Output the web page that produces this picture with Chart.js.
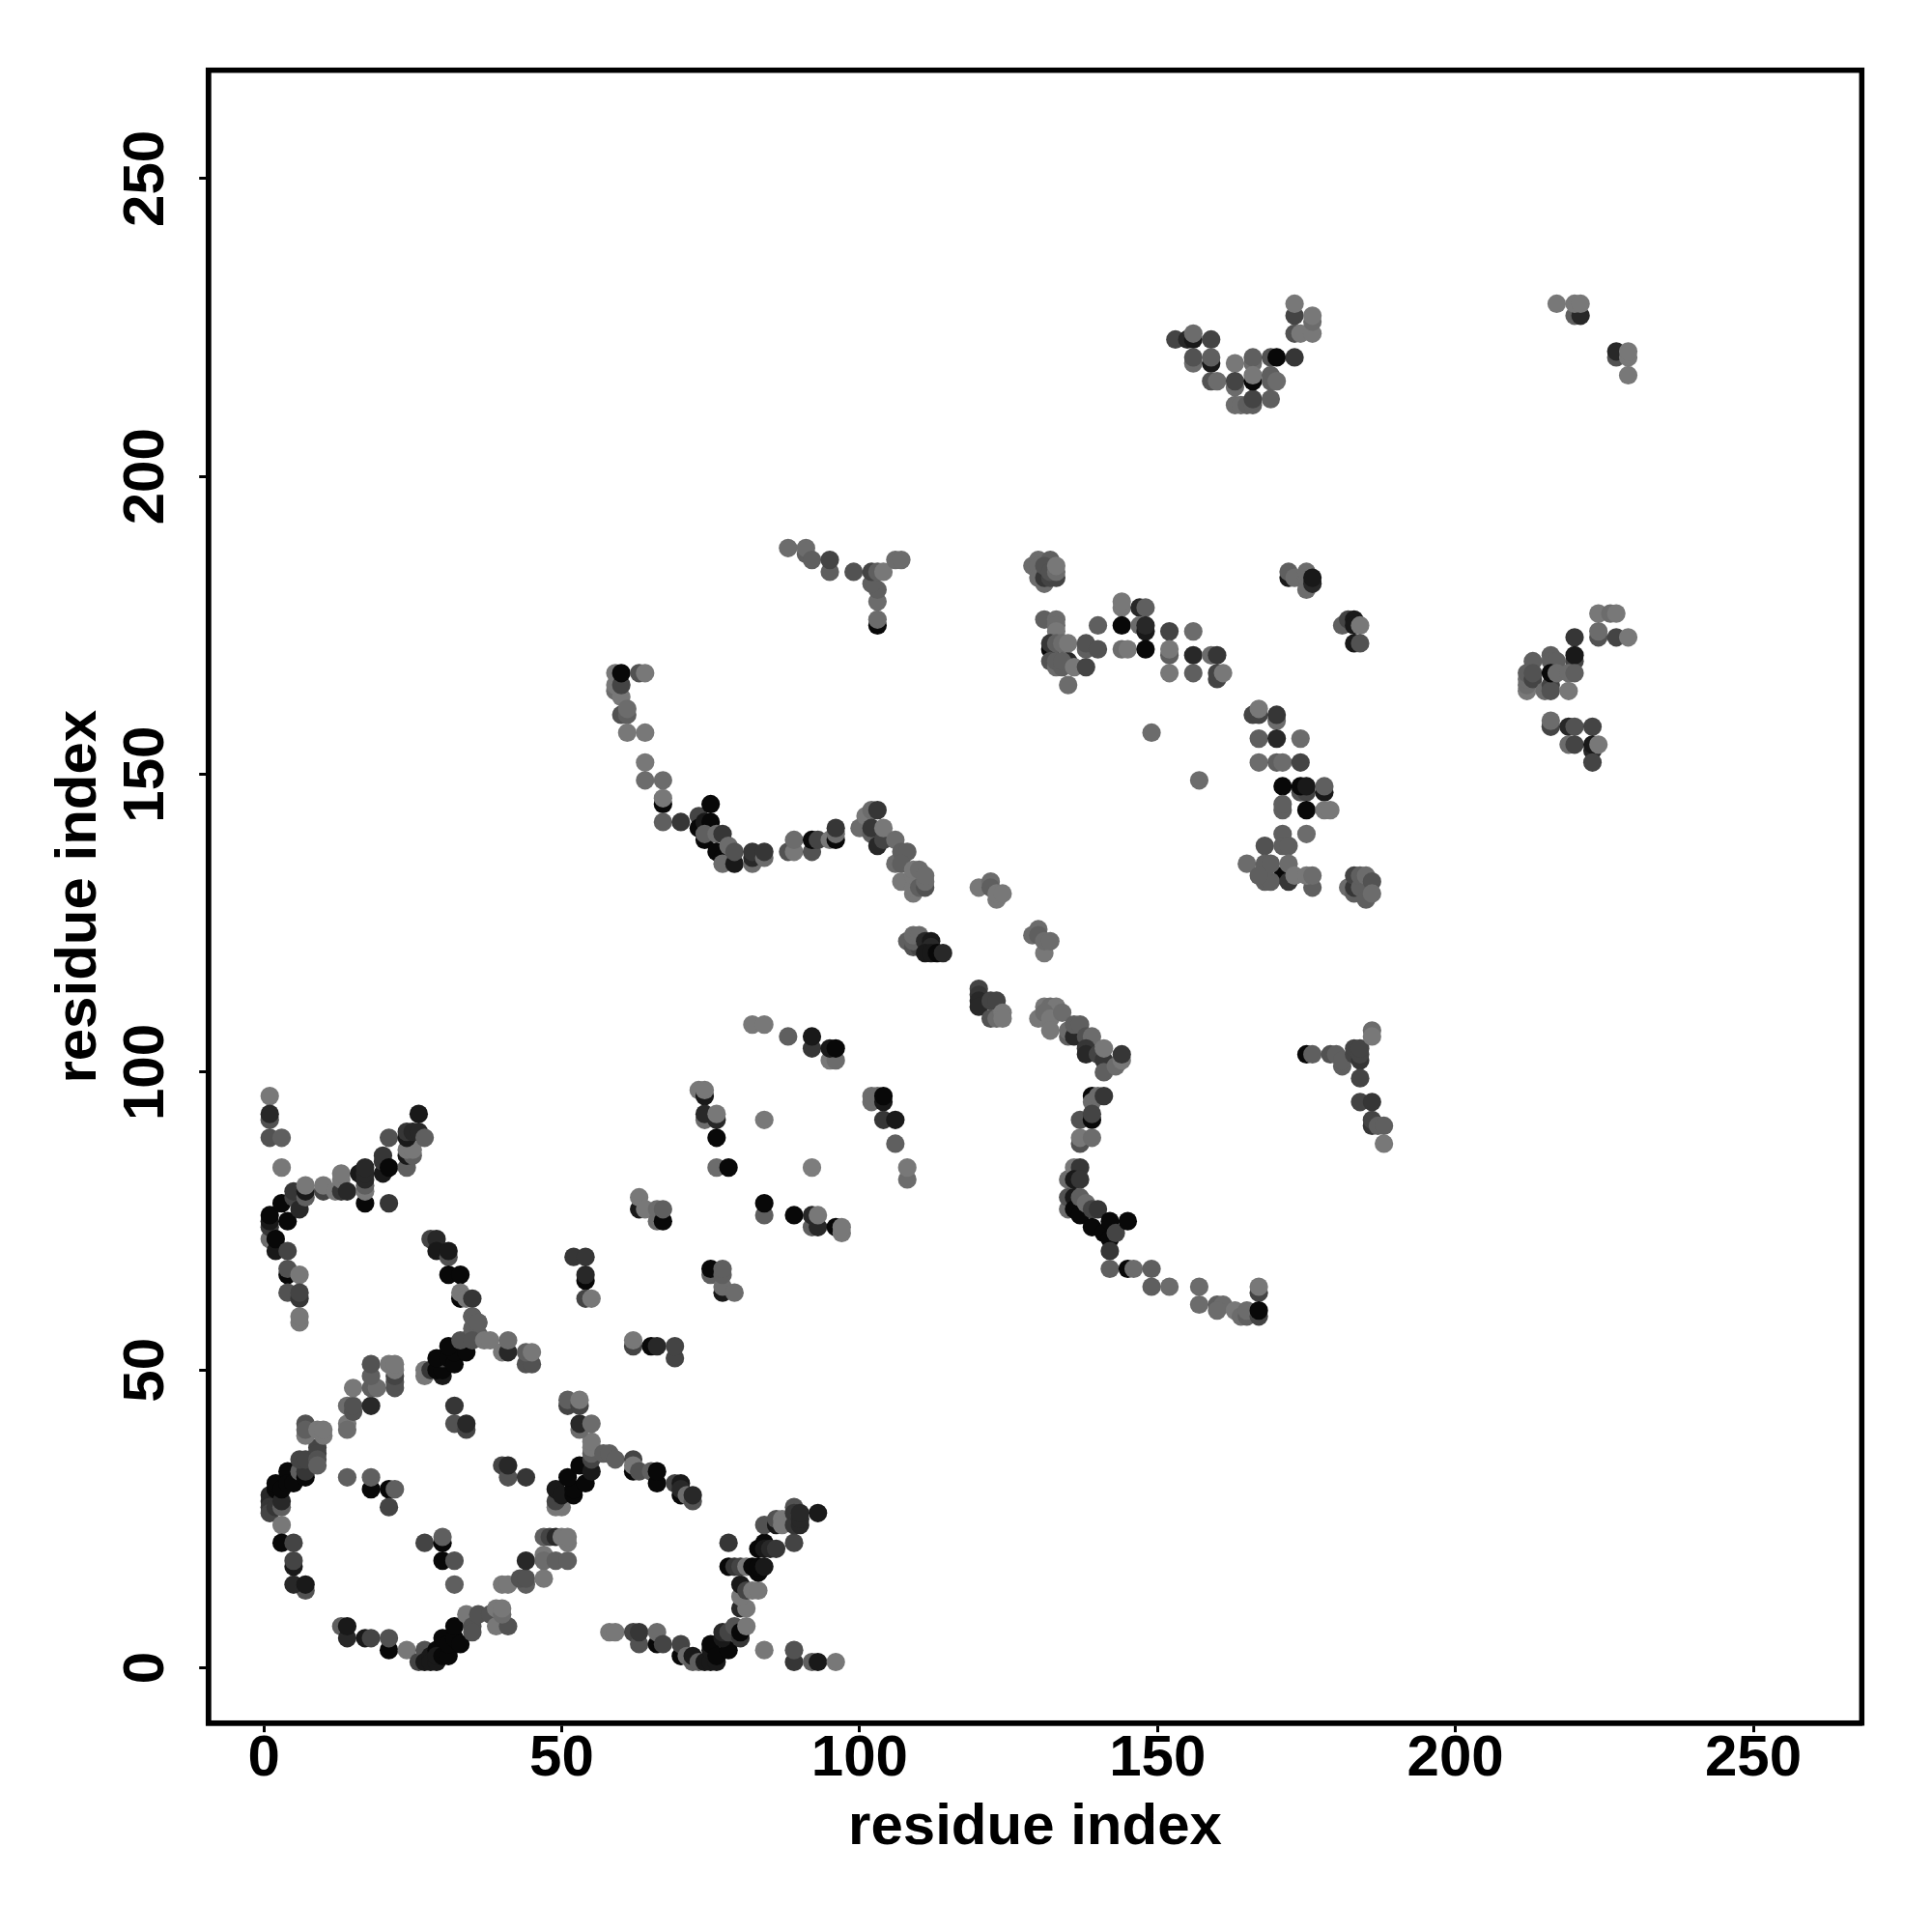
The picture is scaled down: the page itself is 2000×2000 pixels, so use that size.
<!DOCTYPE html>
<html>
<head>
<meta charset="utf-8">
<title>residue contact map</title>
<script src="https://cdn.jsdelivr.net/npm/chart.js@4/dist/chart.umd.min.js"></script>
<style>
    html, body { margin: 0; padding: 0; background: #fff; }
    canvas { display: block; }
</style>
</head>
<body>
<canvas id="contactMap" width="2000" height="2000"></canvas>
<script>
// Kontakte als [Residue i, Residue j, Stufe], Stufe 0 = schwach (hell), 9 = stark (dunkel).
const xTickValues = [0, 50, 100, 150, 200, 250];
const yTickValues = [0, 50, 100, 150, 200, 250];
const axisLabel = "residue index";

const lowerArcLeft = [
    [1,29,7],[1,28,7],[1,27,6],[1,26,5],[2,27,6],[3,27,3],[2,30,9],[2,31,9],[3,28,7],[3,30,9],[4,33,9],[4,31,9],[5,31,9],[6,33,3],[7,32,9],
    [7,33,6],[6,35,5],[7,35,5],[9,37,5],[9,36,5],[9,35,4],[9,34,3],[7,41,4],[7,39,1],[7,40,3],[9,40,1],[10,39,1],[10,40,1],
    [3,24,1],[3,21,9],[5,21,5],[5,17,8],[5,18,5],[7,13,4],[5,14,7],[7,14,8],
    [14,32,3],[18,30,9],[18,32,3],[21,30,9],[22,30,3],[21,27,5]
];
const upperArcLeft = [
    [14,41,1],[14,40,2],[14,44,2],[15,43,4],[15,44,4],[15,47,1],[18,44,7],[18,47,3],[19,47,2],[18,49,3],[18,51,4],
    [22,47,4],[22,48,4],[22,49,5],[21,51,1],[22,50,1],[22,51,1]
];
const middleBand = [
    [27,49,1],[27,50,1],[28,50,6],[30,49,8],[29,50,9],[30,50,9],[30,52,5],[29,52,9],[31,52,9],[32,51,9],[32,53,9],[31,54,9],[34,53,9],[34,55,9],
    [33,55,4],[35,59,4],[36,58,3],[35,57,3],[36,56,3],[35,55,4],[37,55,1],[38,55,1],[40,53,1],[41,53,7],[41,55,2],[44,51,4],[45,51,4],[44,53,3],[45,53,1]
];
const circleInside = [
    [32,44,6],[32,41,4],[34,40,5],[34,41,7],[40,34,5],[41,32,4],[41,34,7],[44,32,6],
    [27,21,5],[30,21,9],[30,22,3],[30,18,9],[32,18,4],[32,14,3]
];
const circleBottom = [
    [13,7,3],[14,5,7],[14,7,8],[17,5,8],[18,5,5],[21,3,9],[21,5,4],[24,3,1],
    [26,1,5],[27,3,4],[27,1,8],[28,2,8],[28,1,8],[29,1,8],[29,3,9],[29,2,8],[30,2,9],[31,2,9],[30,5,9],[31,4,9],[32,5,9],[33,4,9],[32,7,9],
    [34,9,1],[35,7,4],[35,6,4],[36,9,4],[38,9,4],[39,7,1],[39,10,1],[41,7,4],[40,9,2],[40,10,1],
    [40,14,1],[41,14,1],[44,14,3],[43,15,4],[44,15,4],[47,15,1],[44,18,7],[47,19,1],[47,18,2],[49,18,3],[51,18,3],
    [47,22,3],[48,22,5],[49,22,7],[51,21,1],[50,22,1],[51,22,1]
];
const circleRight = [
    [50,27,1],[49,27,1],[49,28,5],[49,30,8],[50,29,8],[52,29,9],[52,30,9],[51,32,9],[54,31,9],[53,34,9],[55,33,8],[55,35,5],[55,36,3],
    [55,37,1],[55,38,1],[53,40,2],[53,41,7],[55,41,2],[51,44,5],[51,45,3],[53,44,5],[53,45,1],[57,36,3],[58,36,3],[59,35,3],
    [62,33,9],[62,35,5],[62,34,1],[63,33,4],[65,33,3],[66,31,9],[66,33,9],[69,31,5],[70,29,9],[70,31,8],[70,30,7],[71,29,2],[72,28,4],[72,29,7]
];
const bottomRun = [
    [58,6,1],[59,6,1],[62,6,5],[63,4,4],[63,6,6],[66,4,9],[66,6,2],[67,4,5],[70,2,9],[70,4,5],[71,2,2],[72,1,3],[72,2,8],[73,1,3],
    [74,1,8],[75,1,8],[76,1,8],[75,3,8],[75,4,9],[76,2,9],[78,3,9],[77,5,8],[77,6,7],[78,6,5],[79,7,4],[80,5,6],[80,6,9],[81,7,1],[84,3,1],
    [89,1,6],[89,3,4],[92,1,3],[93,1,8],[96,1,1],
    [80,10,7],[81,10,1],[80,12,1],[80,14,8],[81,13,5],[82,13,1],[83,13,1],
    [78,17,9],[79,17,6],[80,17,5],[81,17,1],[83,16,9],[82,17,9],[83,17,9],[84,17,8],[78,21,6],
    [83,20,9],[84,21,9],[84,20,8],[85,20,7],[86,20,6],[89,21,5],[84,24,4],[86,24,8],[86,25,4],[87,25,1],[87,24,1],
    [89,27,4],[89,26,6],[89,24,6],[90,24,7],[90,25,7],[90,26,7],[93,26,8]
];
const leftStem = [
    [1,96,1],[1,92,4],[1,93,7],[1,89,4],[3,89,3],[3,84,1],
    [1,72,2],[1,74,6],[1,75,8],[1,76,9],[3,78,9],[4,75,9],[2,71,1],[2,70,8],[2,72,9],[5,79,5],[5,80,6],[6,77,7],[7,79,3],[7,80,8],[7,81,1],
    [4,70,5],[4,66,9],[4,67,4],[6,66,1],[4,63,4],[6,62,6],[6,63,5],[6,58,1],[6,59,1],
    [10,80,5],[10,81,1],[12,80,1],[13,80,6],[13,82,1],[13,83,1],[14,80,7],
    [17,78,9],[17,80,1],[17,81,3],[16,83,8],[17,82,7],[17,83,7],[17,84,7],[21,78,6],
    [20,83,8],[20,85,6],[20,86,6],[21,84,9],[21,89,4],[24,84,3],[24,86,8],[25,86,3],[24,87,1],[25,87,1],
    [24,89,8],[24,90,6],[25,90,7],[26,90,7],[26,93,8],[27,89,3]
];
const stemDown = [
    [28,72,5],[29,72,7],[29,70,8],[31,69,4],[31,70,8],[31,66,9],[33,66,9],[33,62,9],[33,63,1],[34,62,1],[35,62,6],[35,59,3],[36,58,3],
    [52,69,6],[54,69,6],[54,65,9],[54,66,7],[54,62,5],[55,62,1]
];
const sparseMiddle = [
    [82,108,1],[84,108,1],[88,106,3],[92,104,6],[92,106,8],[95,102,1],[96,102,2],[95,104,8],[96,104,9],
    [102,95,2],[102,96,2],[103,96,2],[104,95,8],[104,96,9],[104,92,6],[106,92,8],[106,88,3],[108,82,2],[108,84,1],
    [73,97,1],[74,96,8],[74,97,1],[74,92,2],[74,93,7],[76,92,7],[76,93,1],[76,89,9],[76,84,2],[78,84,9],[84,92,1],[92,84,0],
    [63,77,8],[63,79,1],[64,77,1],[66,75,2],[66,77,2],[67,75,9],[67,77,3],
    [84,76,3],[84,78,9],[89,76,9],[92,74,3],[92,76,7],[93,74,7],[93,76,1],[96,74,9],[97,73,1],[97,74,1],
    [75,66,3],[75,67,9],[77,63,8],[77,64,2],[77,66,3],[77,67,3],[79,63,2],
    [62,54,5],[62,55,1],[65,54,9],[66,54,7],[69,52,5],[69,54,5]
];
const rightArc = [
    [120,114,5],[120,113,6],[120,112,7],[120,111,7],[122,112,5],[123,112,5],[122,109,4],[123,109,2],[124,110,1],[124,109,1],
    [130,109,1],[131,111,1],[132,111,2],[133,111,1],[131,110,2],[132,109,1],[132,107,1],[134,110,2],[135,106,3],[135,107,2],[136,106,7],[136,108,3],[137,108,3],
    [138,106,4],[139,106,2],[138,104,6],[138,103,7],[140,103,5],[141,102,6],[141,100,3],[143,101,2],[144,102,1],[144,103,6],[141,104,1],
    [139,96,9],[139,95,2],[140,96,2],[141,96,6],[137,92,4],[139,92,9],[139,93,5],[137,88,4],[137,89,1],[139,89,2],
    [135,82,2],[136,84,1],[137,84,6],[136,82,8],[137,82,6],
    [135,77,2],[135,79,4],[136,79,8],[136,77,9],[137,79,3],[137,76,9],[138,78,2],[139,77,5],[140,77,6],[139,74,9],[141,73,9],[142,75,9],[142,72,9],[143,73,5],[145,75,9],[142,70,6],
    [142,67,3],[145,67,9],[146,67,2],[149,67,3],[149,64,3],[152,64,2],[157,64,2],[157,61,2],
    [160,61,3],[161,61,2],[160,60,2],[163,60,1],[164,59,2],[165,59,3],[165,60,2],[167,59,5],[167,63,5],[167,64,1],[167,60,9]
];
const rightSpur = [
    [175,103,9],[176,103,3],[179,103,4],[180,103,3],[181,101,3],[181,102,3],[183,103,5],[183,104,5],[184,102,6],[184,103,5],[184,104,5],
    [186,107,2],[186,106,1],[184,99,5],[184,95,5],[186,95,6],[186,91,6],[186,92,5],[187,91,3],[188,91,3],[188,88,1]
];
const upperRun = [
    [59,164,2],[59,165,1],[60,163,1],[59,167,1],[60,165,5],[60,167,9],[63,167,4],[64,167,1],[60,160,4],[61,160,3],[61,161,2],[61,157,1],[64,157,1],
    [64,152,1],[64,149,2],[67,149,2],[67,145,9],[67,146,1],[67,142,3],[70,142,6],[73,143,5],[75,145,9],[73,141,9],[74,142,8],[75,142,9],
    [74,139,9],[74,140,3],[76,140,2],[77,140,6],[76,137,9],[77,136,9],[78,138,2],[77,135,2],[79,135,8],[79,137,4],
    [82,135,2],[82,136,7],[82,137,6],[84,136,2],[84,137,6],[88,137,4],[89,137,1],[89,139,2],[92,137,4],[92,139,9],[93,139,5],[95,139,1],[96,139,9],[96,140,2],[96,141,6],
    [100,141,2],[101,143,1],[102,144,2],[103,144,6],[102,140,3],[102,141,6],[103,138,7],[104,139,5],[104,141,1],[106,139,2],[106,135,2],[107,137,3],[108,137,3],
    [107,135,3],[107,132,1],[109,130,1],[109,131,1],[109,133,1],[110,131,3],[111,131,4],[111,132,2],[109,134,1],[110,134,2],[111,133,2]
];
const bridge = [
    [108,122,3],[109,121,4],[110,121,5],[109,122,3],[109,123,2],[110,123,2],[111,122,7],[112,122,8],[112,121,7],[111,120,8],[112,120,8],[113,120,9],[114,120,7],
    [120,131,1],[122,132,2],[122,131,3],[123,129,1],[123,130,1],[124,130,1],
    [129,123,2],[130,124,2],[130,123,3],[131,120,1],[131,122,2],[132,122,2]
];
const topMiddle = [
    [88,188,2],[91,187,3],[91,188,2],[92,186,3],[95,184,3],[95,186,5],[99,184,4],[103,175,9],[103,176,2],[103,179,2],[103,181,3],[102,182,3],
    [102,184,5],[103,184,3],[104,184,1],[106,186,2],[107,186,2]
];
const upperCluster = [
    [129,185,2],[130,186,2],[132,186,3],[130,185,2],[131,182,2],[130,183,2],[131,183,6],[131,185,4],[132,183,5],[133,183,5],[132,184,4],[133,184,2],[133,185,1],
    [131,176,3],[133,176,2],[133,175,2],[133,174,1],[132,171,9],[132,172,6],[135,169,7],[133,172,3],[134,172,2],[135,172,1],[132,169,4],[133,168,2],[133,169,3],[134,168,3],[134,169,3],[136,168,1],
    [138,168,5],[135,165,2],[138,171,3],[138,172,4],[140,171,4],[140,175,3],
    [144,178,1],[144,179,1],[144,175,9],[144,171,2],[145,171,1],[147,178,7],[148,178,3],[147,175,2],[148,174,8],[148,175,7],[148,171,9],
    [152,174,5],[152,170,3],[152,171,1],[152,167,1],[156,174,2],[156,170,7],[156,167,3],[159,170,2],[160,170,6],[160,166,5],[160,167,5],[161,167,1],
    [149,157,2],[157,149,2]
];
const rightColumn = [
    [166,160,5],[167,160,5],[167,161,1],[170,159,2],[170,160,6],[167,156,3],[170,156,7],[174,156,2],[167,152,2],[170,152,3],[171,152,2],[174,152,5],
    [171,148,9],[174,147,4],[175,147,5],[174,148,9],[175,148,8],[178,147,8],[178,148,3],[171,144,3],[171,145,3],[175,144,9],[178,144,1],[179,144,1],
    [171,140,3],[175,140,2],[168,138,4],[171,138,3],[172,138,3],[165,135,2],[171,133,9],[168,132,3],[169,132,3],[168,134,3],[168,135,3],[169,135,3],[167,133,3],[172,132,6],[172,135,2],
    [176,131,3],[173,133,1],[175,133,1],[176,133,2],
    [182,131,2],[183,130,3],[183,131,6],[183,133,5],[184,131,3],[184,133,3],[185,133,2],[186,132,4],[185,129,3],[186,130,2],
    [172,183,8],[172,184,3],[173,183,2],[175,181,2],[175,183,2],[175,184,2],[176,182,7],[176,183,8],
    [181,175,3],[182,176,5],[183,176,8],[183,175,8],[184,175,1],[183,172,8],[184,172,4]
];
const topGroup = [
    [153,223,5],[155,223,7],[156,223,8],[156,224,2],[159,223,5],[156,219,2],[156,220,4],[159,219,8],[159,220,3],[159,216,4],[160,216,2],
    [163,219,1],[163,215,2],[163,216,5],[163,212,2],[164,212,2],[165,212,3],[166,212,3],[166,213,5],[166,219,2],[166,220,3],[166,216,9],[166,217,1],
    [169,220,4],[170,220,9],[173,220,6],[169,213,3],[169,216,3],[169,217,3],[170,216,2],
    [173,227,5],[173,229,1],[173,224,4],[174,224,1],[176,224,1],[176,226,2],[176,227,1],
    [217,229,1],[220,227,3],[221,227,7],[220,229,1],[221,229,1],[227,220,4],[227,221,7],[229,220,1],[229,221,1],[229,217,1]
];
const farRight = [
    [224,177,1],[226,177,2],[227,177,1],[224,173,4],[224,174,2],[227,173,5],[229,173,1],[220,173,6],[220,169,5],[220,170,8],
    [213,169,3],[216,170,3],[216,169,3],[217,169,3],[212,164,1],[212,165,2],[212,166,2],[212,167,3],[213,166,5],[213,167,4],
    [215,164,2],[216,165,5],[216,164,4],[216,167,9],[217,167,2],[219,167,2],[220,167,3],[219,164,1],
    [216,158,5],[216,159,2],[219,158,7],[220,158,4],[223,158,5],[219,155,2],[220,155,5],[223,154,7],[223,155,8],[224,155,1],[223,152,5]
];

const contactGroups = [lowerArcLeft, upperArcLeft, middleBand, circleInside, circleBottom, circleRight, bottomRun, leftStem, stemDown,
    sparseMiddle, rightArc, rightSpur, upperRun, bridge, topMiddle, upperCluster, rightColumn, topGroup, farRight];
const contacts = contactGroups.flat();

// Graustufe zu jeder Kontaktstufe
const greyRamp = [125, 120, 108, 95, 82, 68, 54, 40, 25, 8];

const fontFamily = '"Liberation Sans", Arial, sans-serif';

// Rahmen um die ganze Plotflaeche (oben und rechts gibt es keine Achse)
const boxPlugin = {
    id: "boxPlugin",
    afterDraw(chart) {
        const { ctx, chartArea } = chart;
        ctx.save();
        ctx.strokeStyle = "#000";
        ctx.lineWidth = 5.5;
        ctx.strokeRect(chartArea.left, chartArea.top, chartArea.right - chartArea.left, chartArea.bottom - chartArea.top);
        ctx.restore();
    }
};

const ctx = document.getElementById("contactMap");
new Chart(ctx, {
    type: "scatter",
    data: {
        datasets: [{
            data: contacts.map((c) => ({ x: c[0], y: c[1] })),
            pointRadius: 9.6,
            pointHoverRadius: 9.6,
            borderWidth: 0,
            backgroundColor: contacts.map((c) => {
                const g = greyRamp[c[2]];
                return "rgb(" + g + "," + g + "," + g + ")";
            }),
        }],
    },
    options: {
        responsive: false,
        animation: false,
        layout: { padding: { top: 72.7, right: 72.7, left: 0, bottom: 0 } },
        plugins: { legend: { display: false }, tooltip: { enabled: false } },
        scales: {
            x: {
                type: "linear",
                min: -9.3,
                max: 268.2,
                afterBuildTicks: (scale) => { scale.ticks = xTickValues.map((v) => ({ value: v })); },
                afterFit: (scale) => { scale.height = 216.3; },
                grid: { drawOnChartArea: false, tickColor: "#000", tickWidth: 3, tickLength: 9.5 },
                border: { color: "#000", width: 5.5 },
                ticks: { color: "#000", padding: -8, autoSkip: false, maxRotation: 0, font: { family: fontFamily, size: 60, weight: "bold" } },
                title: { display: true, text: axisLabel, color: "#000", padding: { top: 0, bottom: 78 }, font: { family: fontFamily, size: 60, weight: "bold", lineHeight: 1 } },
            },
            y: {
                type: "linear",
                min: -9.25,
                max: 268.2,
                afterBuildTicks: (scale) => { scale.ticks = yTickValues.map((v) => ({ value: v })); },
                afterFit: (scale) => { scale.width = 215.7; },
                grid: { drawOnChartArea: false, tickColor: "#000", tickWidth: 3, tickLength: 9.5 },
                border: { color: "#000", width: 5.5 },
                ticks: { color: "#000", padding: 4, autoSkip: false, minRotation: 90, maxRotation: 90, crossAlign: "center", font: { family: fontFamily, size: 60, weight: "bold" } },
                title: { display: true, text: axisLabel, color: "#000", padding: { top: 52, bottom: 0 }, font: { family: fontFamily, size: 60, weight: "bold", lineHeight: 1 } },
            },
        },
    },
    plugins: [boxPlugin],
});
</script>
</body>
</html>
